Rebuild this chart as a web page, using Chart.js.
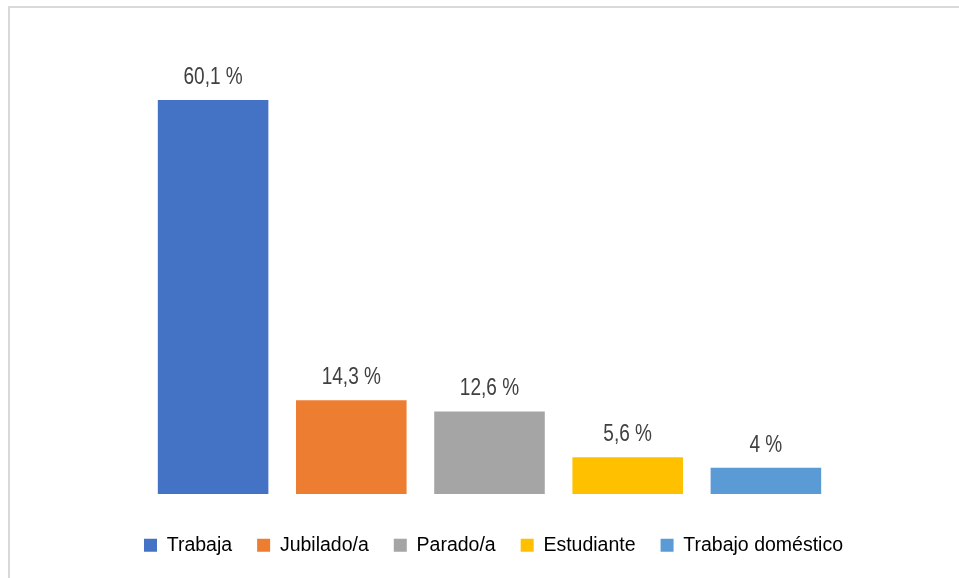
<!DOCTYPE html>
<html>
<head>
<meta charset="utf-8">
<script src="https://cdn.jsdelivr.net/npm/chart.js@4.4.1/dist/chart.umd.min.js"></script>
<style>
  html, body { margin: 0; padding: 0; background: #fff; overflow: hidden; }
  #marco {
    position: absolute; left: 8px; top: 6px;
    width: 971px; height: 585px;
    border: 2px solid #d9d9d9; box-sizing: border-box;
  }
  #grafico { display: block; }
</style>
</head>
<body>
<div id="marco"><canvas id="grafico" width="967" height="581"></canvas></div>
<script>
const categorias = ["Trabaja", "Jubilado/a", "Parado/a", "Estudiante", "Trabajo doméstico"];
const porcentajes = [60.1, 14.3, 12.6, 5.6, 4];
const colores = ["#4472C4", "#ED7D31", "#A5A5A5", "#FFC000", "#5B9BD5"];

// etiquetas encima de cada barra (letra estrechada como en el original)
const etiquetasBarras = {
    id: "etiquetasBarras",
    afterDatasetsDraw(chart) {
        const ctx = chart.ctx;
        const meta = chart.getDatasetMeta(0);
        meta.data.forEach((barra, i) => {
            const texto = String(porcentajes[i]).replace(".", ",") + " %";
            ctx.save();
            ctx.font = "23.5px 'Liberation Sans', Arial, sans-serif";
            ctx.fillStyle = "#404040";
            ctx.textAlign = "center";
            ctx.textBaseline = "alphabetic";
            ctx.translate(barra.x, barra.y - 16);
            ctx.scale(0.81, 1);
            ctx.fillText(texto, 0, 0);
            ctx.restore();
        });
    }
};

const grafico = document.getElementById("grafico");
const myChart = new Chart(grafico, {
    type: "bar",
    data: {
        labels: categorias,
        datasets: [{
            data: porcentajes,
            backgroundColor: colores,
            borderWidth: 0,
            categoryPercentage: 1,
            barPercentage: 0.8
        }]
    },
    options: {
        responsive: false,
        animation: false,
        layout: { padding: { top: 27, bottom: 24, left: 0, right: 0 } },
        scales: {
            x: {
                grid: { display: false },
                border: { display: false },
                ticks: { display: false },
                afterFit(s) { s.height = 16.5; }
            },
            y: {
                min: 0, max: 70,
                grid: { display: false },
                border: { display: false },
                ticks: { display: false },
                afterFit(s) { s.width = 134; }
            },
            y2: {
                position: "right",
                min: 0, max: 70,
                grid: { display: false },
                border: { display: false },
                ticks: { display: false },
                afterFit(s) { s.width = 142; }
            }
        },
        plugins: {
            tooltip: { enabled: false },
            legend: {
                position: "bottom",
                labels: {
                    boxWidth: 13,
                    boxHeight: 13,
                    padding: 25,
                    color: "#595959",
                    font: { family: "'Liberation Sans', Arial, sans-serif", size: 19.5 },
                    generateLabels() {
                        return categorias.map((c, i) => ({
                            text: c,
                            fillStyle: colores[i],
                            strokeStyle: colores[i],
                            lineWidth: 0,
                            hidden: false,
                            index: i
                        }));
                    }
                }
            }
        }
    },
    plugins: [etiquetasBarras]
});
</script>
</body>
</html>
